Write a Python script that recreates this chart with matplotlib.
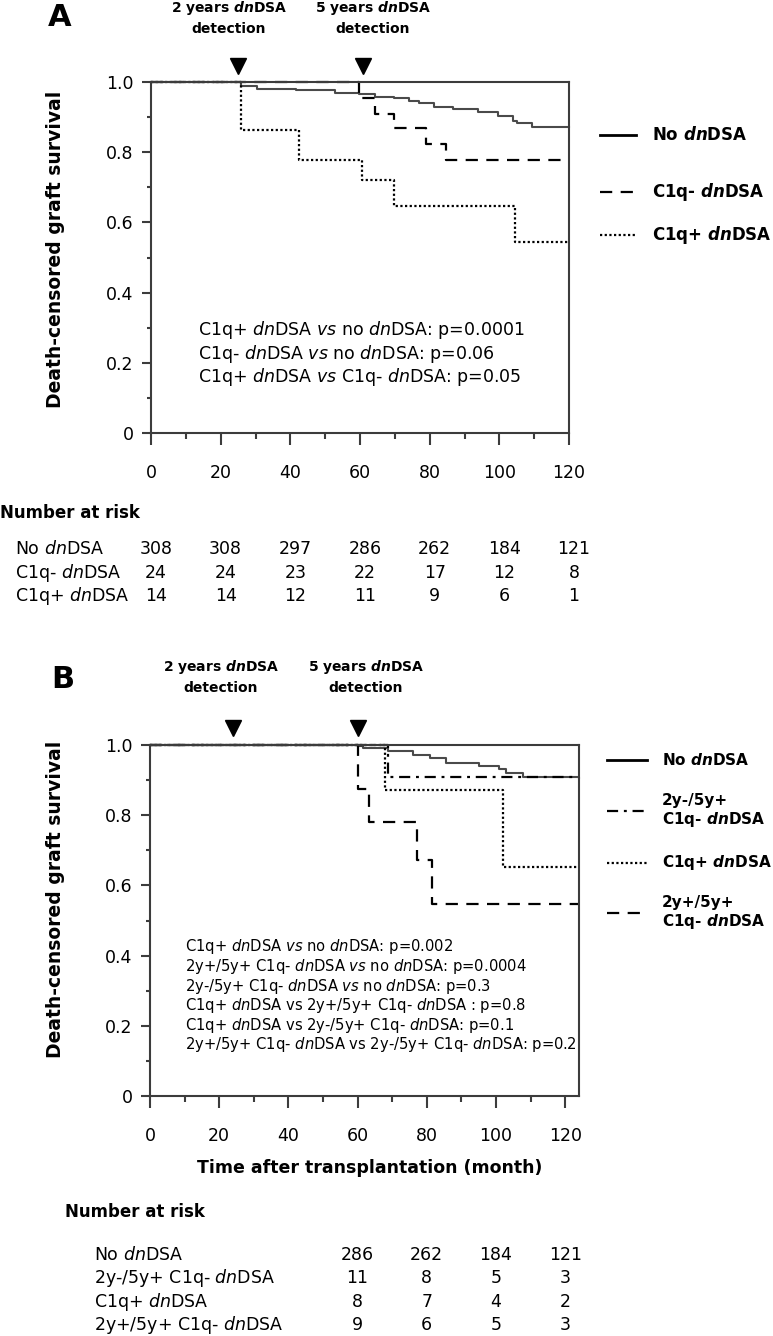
import matplotlib
matplotlib.use("Agg")
import matplotlib.pyplot as plt
from matplotlib.lines import Line2D
from matplotlib import transforms
from matplotlib.ticker import MultipleLocator, FuncFormatter

# ---- data ----
# panel A: death-censored graft survival (months)
a_none_t = [0, 25.7, 30.4, 41.7, 52.9, 59.6, 64.2, 69.9, 74.1, 77.0, 81.2, 86.8, 93.9, 99.5, 103.8, 105.2, 109.4, 120]
a_none_s = [1.0, 0.99, 0.979, 0.976, 0.970, 0.965, 0.956, 0.954, 0.946, 0.939, 0.929, 0.923, 0.915, 0.904, 0.89, 0.882, 0.873, 0.873]
a_neg_t = [0, 59.6, 64.2, 69.9, 79.0, 84.7, 120]
a_neg_s = [1.0, 0.955, 0.91, 0.868, 0.824, 0.778, 0.778]
a_pos_t = [0, 25.7, 42.4, 60.7, 69.9, 104.5, 120]
a_pos_s = [1.0, 0.864, 0.778, 0.72, 0.646, 0.545, 0.545]
a_marks = [25, 61]

# panel B
b_none_t = [0, 60, 61.5, 68.7, 75.9, 80.8, 85.6, 90.4, 95.2, 101, 102.9, 107.7, 124]
b_none_s = [1.0, 0.997, 0.992, 0.984, 0.971, 0.962, 0.95, 0.948, 0.94, 0.933, 0.919, 0.909, 0.905]
b_late_t = [0, 68.7, 124]
b_late_s = [1.0, 0.909, 0.909]
b_pos_t = [0, 67.8, 102.1, 124]
b_pos_s = [1.0, 0.873, 0.652, 0.652]
b_early_t = [0, 60, 63.3, 77.1, 81.4, 124]
b_early_s = [1.0, 0.876, 0.781, 0.671, 0.548, 0.548]
b_marks = [24, 60]

# number at risk
risk_a_months = [0, 20, 40, 60, 80, 100, 120]
risk_a_labels = ["No $\\mathit{dn}$DSA", "C1q- $\\mathit{dn}$DSA", "C1q+ $\\mathit{dn}$DSA"]
risk_a_none = [308, 308, 297, 286, 262, 184, 121]
risk_a_neg = [24, 24, 23, 22, 17, 12, 8]
risk_a_pos = [14, 14, 12, 11, 9, 6, 1]

risk_b_months = [60, 80, 100, 120]
risk_b_labels = ["No $\\mathit{dn}$DSA", "2y-/5y+ C1q- $\\mathit{dn}$DSA",
                 "C1q+ $\\mathit{dn}$DSA", "2y+/5y+ C1q- $\\mathit{dn}$DSA"]
risk_b_none = [286, 262, 184, 121]
risk_b_late = [11, 8, 5, 3]
risk_b_pos = [8, 7, 4, 2]
risk_b_early = [9, 6, 5, 3]

notes_a = ["C1q+ $\\mathit{dn}$DSA $\\mathit{vs}$ no $\\mathit{dn}$DSA: p=0.0001",
           "C1q- $\\mathit{dn}$DSA $\\mathit{vs}$ no $\\mathit{dn}$DSA: p=0.06",
           "C1q+ $\\mathit{dn}$DSA $\\mathit{vs}$ C1q- $\\mathit{dn}$DSA: p=0.05"]
notes_b = ["C1q+ $\\mathit{dn}$DSA $\\mathit{vs}$ no $\\mathit{dn}$DSA: p=0.002",
           "2y+/5y+ C1q- $\\mathit{dn}$DSA $\\mathit{vs}$ no $\\mathit{dn}$DSA: p=0.0004",
           "2y-/5y+ C1q- $\\mathit{dn}$DSA $\\mathit{vs}$ no $\\mathit{dn}$DSA: p=0.3",
           "C1q+ $\\mathit{dn}$DSA vs 2y+/5y+ C1q- $\\mathit{dn}$DSA : p=0.8",
           "C1q+ $\\mathit{dn}$DSA vs 2y-/5y+ C1q- $\\mathit{dn}$DSA: p=0.1",
           "2y+/5y+ C1q- $\\mathit{dn}$DSA vs 2y-/5y+ C1q- $\\mathit{dn}$DSA: p=0.2"]

plt.rcParams.update({
    "font.family": "DejaVu Sans",
    "mathtext.fontset": "custom",
    "mathtext.rm": "DejaVu Sans",
    "mathtext.it": "DejaVu Sans:italic",
    "mathtext.bf": "DejaVu Sans:bold",
    "mathtext.bfit": "DejaVu Sans:italic:bold",
})

W, H = 773, 1336
SPINE = "#3c3c3c"


def fx(px):
    return px / W


def fy(py):
    return 1 - py / H


SOLID = dict(color="#4a4a4a", lw=1.5, ls="-")
SOLID_KEY = dict(color="black", lw=2.0, ls="-")
DASH = dict(color="black", lw=1.6, ls=(0, (5.5, 3.8)))
DOT = dict(color="black", lw=1.6, ls=(0, (1, 1.1)))
DASHDOT = dict(color="black", lw=1.6, ls=(0, (5, 2.6, 1.3, 2.6)))

fig = plt.figure(figsize=(W / 100, H / 100), dpi=100)
axA = fig.add_axes([fx(151), fy(433), (569 - 151) / W, (433 - 82) / H])
axB = fig.add_axes([fx(150), fy(1096), (579 - 150) / W, (1096 - 745) / H])


def style_axes(ax, xmax):
    ax.set_xlim(0, xmax)
    ax.set_ylim(0, 1.0)
    ax.xaxis.set_major_locator(MultipleLocator(20))
    ax.xaxis.set_minor_locator(MultipleLocator(10))
    ax.yaxis.set_major_locator(MultipleLocator(0.2))
    ax.yaxis.set_minor_locator(MultipleLocator(0.1))
    ax.yaxis.set_major_formatter(FuncFormatter(lambda v, p: "0" if abs(v) < 1e-9 else f"{v:.1f}"))
    for sp in ax.spines.values():
        sp.set_color(SPINE)
        sp.set_linewidth(1.5)
    ax.tick_params(axis="x", which="major", length=8.6, width=1.5, pad=14, labelsize=12.5, color=SPINE)
    ax.tick_params(axis="x", which="minor", length=4.3, width=1.5, color=SPINE)
    ax.tick_params(axis="y", which="major", length=6.5, width=1.5, pad=6, labelsize=12.5, color=SPINE)
    ax.tick_params(axis="y", which="minor", length=3, width=1.5, color=SPINE)
    ax.set_ylabel("Death-censored graft survival", fontsize=13.5, fontweight="bold")


style_axes(axA, 120)
style_axes(axB, 124)
axA.yaxis.set_label_coords((65 - 151) / 418, 0.524)
axB.yaxis.set_label_coords((65 - 150) / 429, 0.56)
axB.set_xlabel("Time after transplantation (month)", fontsize=12.5, fontweight="bold")
axB.xaxis.set_label_coords((370 - 150) / 429, (1096 - 1159) / 351)

# curves
axA.step(a_none_t, a_none_s, where="post", clip_on=False, **SOLID)
axA.step(a_neg_t, a_neg_s, where="post", clip_on=False, **DASH)
axA.step(a_pos_t, a_pos_s, where="post", clip_on=False, **DOT)

axB.step(b_none_t, b_none_s, where="post", clip_on=False, **SOLID)
axB.step(b_late_t, b_late_s, where="post", clip_on=False, **DASHDOT)
axB.step(b_pos_t, b_pos_s, where="post", clip_on=False, **DOT)
axB.step(b_early_t, b_early_s, where="post", clip_on=False, **DASH)

# detection markers
for ax, marks, yfrac in [(axA, a_marks, 1.046), (axB, b_marks, 1.048)]:
    tr = transforms.blended_transform_factory(ax.transData, ax.transAxes)
    ax.plot(marks, [yfrac] * len(marks), "v", color="black", ms=11, transform=tr, clip_on=False)

# headers
for cx, top, yr in [(229, 8, "2"), (373, 8, "5"), (221, 667, "2"), (366, 667, "5")]:
    fig.text(fx(cx), fy(top), yr + " years $\\mathbfit{dn}$DSA", ha="center", va="center",
             fontsize=10, fontweight="bold")
    fig.text(fx(cx), fy(top + 21), "detection", ha="center", va="center", fontsize=10, fontweight="bold")

fig.text(fx(60), fy(18), "A", ha="center", va="center", fontsize=22, fontweight="bold")
fig.text(fx(63), fy(680), "B", ha="center", va="center", fontsize=22, fontweight="bold")

# p-value notes
for i, s in enumerate(notes_a):
    fig.text(fx(198), fy(330 + 23.5 * i), s, ha="left", va="center", fontsize=12.5)
for i, s in enumerate(notes_b):
    fig.text(fx(185), fy(947 + 19.6 * i), s, ha="left", va="center", fontsize=10.6)


# legends
def key(x0, x1, y, style, label, tx, size):
    fig.add_artist(Line2D([fx(x0), fx(x1)], [fy(y), fy(y)], transform=fig.transFigure, **style))
    fig.text(fx(tx), fy(y), label, ha="left", va="center", fontsize=size, fontweight="bold",
             linespacing=1.1)


key(600, 636, 135, SOLID_KEY, "No $\\mathbfit{dn}$DSA", 652, 12)
key(600, 636, 192, DASH, "C1q- $\\mathbfit{dn}$DSA", 652, 12)
key(600, 636, 235, DOT, "C1q+ $\\mathbfit{dn}$DSA", 652, 12)

key(607, 647, 760, SOLID_KEY, "No $\\mathbfit{dn}$DSA", 662, 11)
key(607, 647, 811, DASHDOT, "2y-/5y+\nC1q- $\\mathbfit{dn}$DSA", 662, 11)
key(607, 647, 863, DOT, "C1q+ $\\mathbfit{dn}$DSA", 662, 11)
key(607, 647, 913, DASH, "2y+/5y+\nC1q- $\\mathbfit{dn}$DSA", 662, 11)

# number at risk tables
fig.text(fx(0), fy(513), "Number at risk", ha="left", va="center", fontsize=12, fontweight="bold")
trA = transforms.offset_copy(transforms.blended_transform_factory(axA.transData, fig.transFigure),
                             fig=fig, x=5, y=0, units="dots")
for i, (lab, vals) in enumerate(zip(risk_a_labels, [risk_a_none, risk_a_neg, risk_a_pos])):
    y = 549 + 23.5 * i
    fig.text(fx(15), fy(y), lab, ha="left", va="center", fontsize=12.5)
    for m, v in zip(risk_a_months, vals):
        fig.text(m, fy(y), str(v), ha="center", va="center", fontsize=12.5, transform=trA)

fig.text(fx(65), fy(1212), "Number at risk", ha="left", va="center", fontsize=12, fontweight="bold")
trB = transforms.blended_transform_factory(axB.transData, fig.transFigure)
for i, (lab, vals) in enumerate(zip(risk_b_labels, [risk_b_none, risk_b_late, risk_b_pos, risk_b_early])):
    y = 1255 + 23.4 * i
    fig.text(fx(94), fy(y), lab, ha="left", va="center", fontsize=12.5)
    for m, v in zip(risk_b_months, vals):
        fig.text(m, fy(y), str(v), ha="center", va="center", fontsize=12.5, transform=trB)

fig.savefig("out.png", dpi=100)
